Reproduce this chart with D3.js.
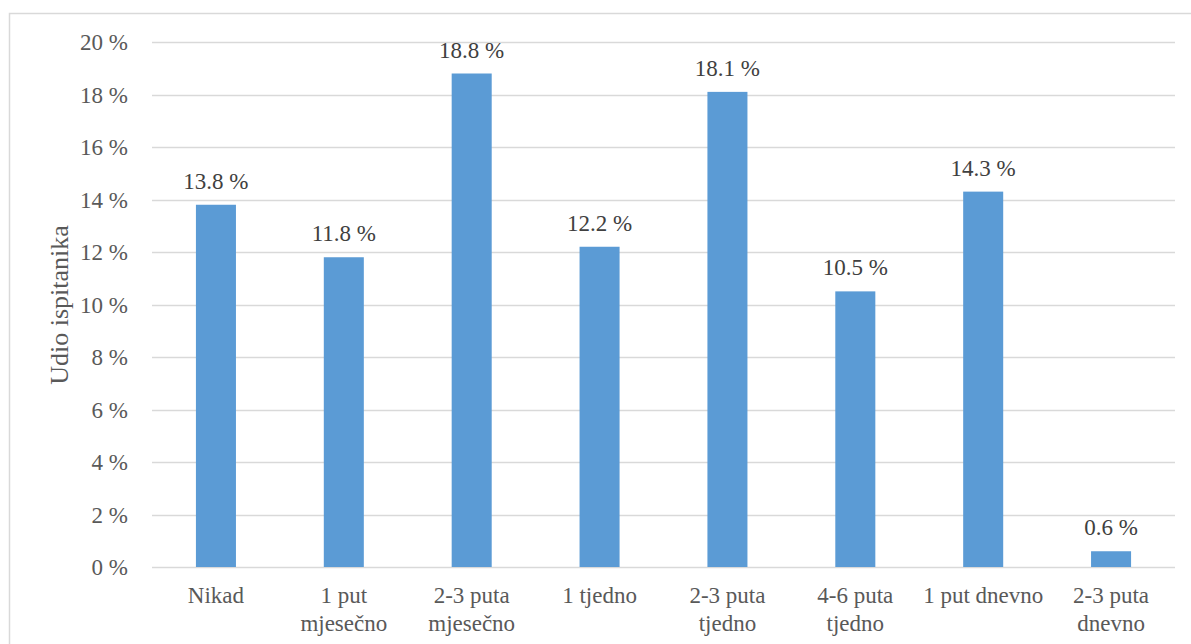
<!DOCTYPE html>
<html><head><meta charset="utf-8">
<script src="https://cdn.jsdelivr.net/npm/d3@7"></script>
<style>
body{margin:0;background:#fff}
svg{display:block}
svg, svg text, svg tspan{font-family:"Liberation Serif","Times New Roman",Tinos,serif !important;}
</style>
</head><body>
<script>
const categories = [["Nikad"],["1 put","mjesečno"],["2-3 puta","mjesečno"],["1 tjedno"],["2-3 puta","tjedno"],["4-6 puta","tjedno"],["1 put dnevno"],["2-3 puta","dnevno"]];
const values = [13.8, 11.8, 18.8, 12.2, 18.1, 10.5, 14.3, 0.6];
const yTicks = [0,2,4,6,8,10,12,14,16,18,20];
const yTitle = "Udio ispitanika";

const W=1191,H=644;
const fam = "Liberation Serif";
const svg=d3.select("body").append("svg").attr("width",W).attr("height",H)
  .attr("font-family",fam).style("font-family",fam);
svg.append("rect").attr("x",9.5).attr("y",13.5).attr("width",1200).attr("height",700)
  .attr("fill","none").attr("stroke","#d9d9d9").attr("stroke-width",1.5);

const pL=152,pR=1175,pT=42,pB=567;
const xs=d3.scaleBand().domain(d3.range(categories.length)).range([pL,pR]).paddingInner(0.687).paddingOuter(0.3435);
const ys=d3.scaleLinear().domain([0,20]).range([pB,pT]);

const g=svg.append("g");
g.selectAll("line.grid").data(yTicks).join("line").attr("class","grid")
 .attr("x1",pL).attr("x2",pR).attr("y1",d=>Math.round(ys(d))+0.5).attr("y2",d=>Math.round(ys(d))+0.5)
 .attr("stroke","#d9d9d9").attr("stroke-width",1.5);
g.selectAll("text.yt").data(yTicks).join("text").attr("class","yt")
 .attr("x",128).attr("y",d=>ys(d)+8).attr("text-anchor","end")
 .attr("font-family",fam).style("font-size","23px").attr("fill","#595959").text(d=>d+" %");

g.selectAll("rect.bar").data(values).join("rect").attr("class","bar")
 .attr("x",(d,i)=>xs(i)).attr("width",xs.bandwidth()).attr("y",d=>ys(d)).attr("height",d=>ys(0)-ys(d))
 .attr("fill","#5b9bd5");
g.selectAll("text.lbl").data(values).join("text").attr("class","lbl")
 .attr("x",(d,i)=>xs(i)+xs.bandwidth()/2).attr("y",d=>ys(d)-16).attr("text-anchor","middle")
 .attr("font-family",fam).style("font-size","23px").attr("fill","#404040").text(d=>d.toFixed(1)+" %");

categories.forEach((lines,i)=>{
  const t=g.append("text").attr("text-anchor","middle").attr("font-family",fam).style("font-size","23px").attr("fill","#595959");
  lines.forEach((l,j)=>t.append("tspan").attr("x",xs(i)+xs.bandwidth()/2).attr("y",603+j*28).text(l));
});
svg.append("text").attr("transform","translate(68,305) rotate(-90)").attr("text-anchor","middle")
 .attr("font-family",fam).style("font-size","26px").attr("fill","#595959").text(yTitle);
</script>
</body></html>
